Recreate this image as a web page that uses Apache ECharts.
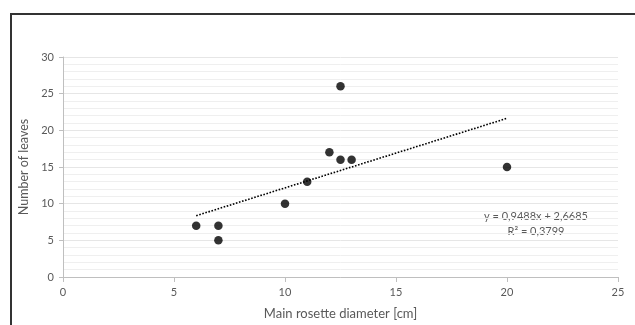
<!DOCTYPE html>
<html><head><meta charset="utf-8">
<script src="https://cdn.jsdelivr.net/npm/echarts@6/dist/echarts.min.js"></script>
<style>html,body{margin:0;padding:0;background:#fff}#c{width:635px;height:325px}</style>
</head><body><div id="c"></div>
<script>
const diameter = [6, 7, 7, 10, 11, 12, 12.5, 12.5, 13, 20];
const leaves   = [7, 7, 5, 10, 13, 17, 26, 16, 16, 15];
const trendX = [6, 20];
const trendY = [8.36, 21.64];
const eqLine1 = 'y = 0,9488x + 2,6685';
const eqLine2 = 'R² = 0,3799';
const xTitle = 'Main rosette diameter [cm]';
const yTitle = 'Number of leaves';

const font = 'Lato, "Open Sans", sans-serif';
const grey = '#595959';
const chart = echarts.init(document.getElementById('c'), null, {renderer:'canvas'});
chart.setOption({
  animation:false,
  backgroundColor:'#fff',
  grid:{left:63, right:17, top:57, bottom:48},
  xAxis:{type:'value', min:0, max:25, interval:5,
    name:xTitle, nameLocation:'middle', nameGap:30,
    nameTextStyle:{color:grey, fontSize:13, fontFamily:font},
    axisLine:{show:true, lineStyle:{color:'#bfbfbf', width:1}},
    axisTick:{show:true, length:5, lineStyle:{color:'#bfbfbf'}},
    axisLabel:{color:grey, fontSize:11, fontFamily:font, margin:10},
    splitLine:{show:false}},
  yAxis:{type:'value', min:0, max:30, interval:5,
    name:yTitle, nameLocation:'middle', nameGap:29,
    nameTextStyle:{color:grey, fontSize:12.5, fontFamily:font},
    axisLine:{show:true, lineStyle:{color:'#bfbfbf', width:1}},
    axisTick:{show:true, length:4, lineStyle:{color:'#bfbfbf'}},
    axisLabel:{color:grey, fontSize:11, fontFamily:font, margin:9},
    minorTick:{show:false, splitNumber:5},
    splitLine:{show:true, lineStyle:{color:'#e6e6e6', width:1}},
    minorSplitLine:{show:true, lineStyle:{color:'#efefef', width:1}}},
  series:[
    {type:'line', data:trendX.map((x,i)=>[x,trendY[i]]), symbol:'none', silent:true,
     lineStyle:{color:'#000', width:1.6, type:[1.6,1.6]}, z:3},
    {type:'scatter', data:diameter.map((x,i)=>[x,leaves[i]]), symbol:'circle', symbolSize:8.5,
     itemStyle:{color:'#000'}, z:4}
  ],
  graphic:[
    {type:'rect', shape:{x:11, y:14, width:640, height:400}, style:{fill:'none', stroke:'#333', lineWidth:2}, silent:true},
    {type:'text', x:536, y:216, style:{text:eqLine1, fill:grey, font:'11px '+font, align:'center', verticalAlign:'middle'}},
    {type:'text', x:536, y:231, style:{text:eqLine2, fill:grey, font:'11px '+font, align:'center', verticalAlign:'middle'}}
  ]
});
</script></body></html>
